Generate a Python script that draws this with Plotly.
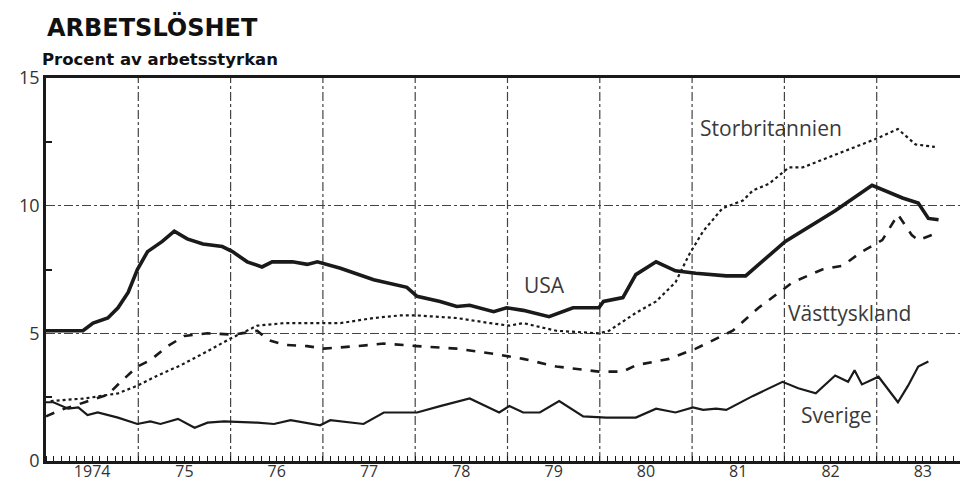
import plotly.graph_objects as go

# ---------------- data (decimal year, percent) ----------------
usa_x = [1974.00, 1974.24, 1974.40, 1974.51, 1974.67, 1974.78, 1974.89, 1974.99, 1975.10, 1975.26,
         1975.39, 1975.53, 1975.70, 1975.91, 1976.02, 1976.18, 1976.34, 1976.45, 1976.67, 1976.83,
         1976.94, 1977.19, 1977.55, 1977.91, 1978.02, 1978.27, 1978.45, 1978.59, 1978.85, 1978.99,
         1979.17, 1979.45, 1979.71, 1979.99, 1980.04, 1980.25, 1980.39, 1980.61, 1980.82, 1981.04,
         1981.37, 1981.58, 1982.01, 1982.55, 1982.95, 1983.28, 1983.45, 1983.56, 1983.67]
usa_y = [5.1, 5.1, 5.1, 5.4, 5.6, 6.0, 6.6, 7.5, 8.2, 8.6,
         9.0, 8.7, 8.5, 8.4, 8.2, 7.8, 7.6, 7.8, 7.8, 7.7,
         7.8, 7.55, 7.1, 6.8, 6.45, 6.25, 6.05, 6.1, 5.85, 6.0,
         5.9, 5.65, 6.0, 6.0, 6.25, 6.4, 7.3, 7.8, 7.45, 7.35,
         7.25, 7.25, 8.6, 9.8, 10.8, 10.3, 10.1, 9.5, 9.45]

gb_x = [1974.05, 1974.42, 1974.78, 1974.99, 1975.21, 1975.46, 1975.75, 1976.00, 1976.29, 1976.58,
        1976.83, 1977.19, 1977.55, 1977.83, 1978.02, 1978.45, 1978.81, 1979.02, 1979.17, 1979.53,
        1979.99, 1980.10, 1980.39, 1980.61, 1980.82, 1980.97, 1981.12, 1981.33, 1981.55, 1981.66,
        1981.83, 1982.05, 1982.20, 1982.55, 1982.98, 1983.23, 1983.42, 1983.63]
gb_y = [2.35, 2.45, 2.65, 2.95, 3.35, 3.75, 4.3, 4.8, 5.3, 5.4,
        5.4, 5.4, 5.6, 5.7, 5.7, 5.6, 5.4, 5.3, 5.4, 5.1,
        5.0, 5.1, 5.8, 6.25, 7.0, 8.1, 9.0, 9.9, 10.2, 10.6,
        10.85, 11.5, 11.5, 12.0, 12.6, 13.0, 12.4, 12.3]

de_x = [1974.00, 1974.16, 1974.42, 1974.67, 1974.81, 1974.99, 1975.13, 1975.32, 1975.50, 1975.75,
        1976.04, 1976.29, 1976.40, 1976.58, 1976.83, 1977.01, 1977.37, 1977.66, 1978.02, 1978.45,
        1978.85, 1979.17, 1979.53, 1979.99, 1980.25, 1980.39, 1980.75, 1981.04, 1981.44, 1981.72,
        1982.09, 1982.41, 1982.63, 1982.84, 1983.06, 1983.23, 1983.38, 1983.45, 1983.63]
de_y = [1.75, 2.0, 2.3, 2.6, 3.1, 3.7, 3.95, 4.5, 4.9, 5.0,
        4.95, 5.1, 4.75, 4.55, 4.5, 4.4, 4.5, 4.6, 4.5, 4.4,
        4.2, 4.0, 3.7, 3.5, 3.5, 3.75, 4.0, 4.4, 5.1, 6.0,
        7.0, 7.5, 7.65, 8.2, 8.65, 9.65, 8.85, 8.65, 8.9]

se_x = [1974.00, 1974.08, 1974.24, 1974.35, 1974.45, 1974.56, 1974.78, 1974.99, 1975.13, 1975.24,
        1975.43, 1975.61, 1975.75, 1975.93, 1976.29, 1976.47, 1976.65, 1976.83, 1976.97, 1977.08,
        1977.44, 1977.66, 1978.02, 1978.27, 1978.59, 1978.91, 1979.02, 1979.17, 1979.35, 1979.56,
        1979.82, 1980.07, 1980.39, 1980.61, 1980.82, 1981.01, 1981.12, 1981.26, 1981.37, 1981.66,
        1981.98, 1982.15, 1982.34, 1982.55, 1982.69, 1982.76, 1982.84, 1983.02, 1983.13, 1983.23,
        1983.34, 1983.45, 1983.56]
se_y = [2.3, 2.3, 2.05, 2.1, 1.8, 1.9, 1.7, 1.45, 1.55, 1.45,
        1.65, 1.3, 1.5, 1.55, 1.5, 1.45, 1.6, 1.5, 1.4, 1.6,
        1.45, 1.9, 1.9, 2.15, 2.45, 1.9, 2.15, 1.9, 1.9, 2.35,
        1.75, 1.7, 1.7, 2.05, 1.9, 2.1, 2.0, 2.05, 2.0, 2.55,
        3.1, 2.85, 2.65, 3.35, 3.1, 3.55, 3.0, 3.3, 2.75, 2.3,
        2.95, 3.7, 3.9]

year_labels = ["1974", "75", "76", "77", "78", "79", "80", "81", "82", "83"]
year_starts = [1974, 1975, 1976, 1977, 1978, 1979, 1980, 1981, 1982, 1983]
y_ticks = [0, 5, 10, 15]

series_labels = ["Storbritannien", "USA", "Västtyskland", "Sverige"]
label_x = [1981.86, 1979.40, 1982.70, 1982.56]
label_y = [13.05, 6.9, 5.8, 1.80]

# ---------------- figure ----------------
INK = "#1a1a1a"
fig = go.Figure()
fig.add_trace(go.Scatter(x=gb_x, y=gb_y, mode="lines", name="Storbritannien",
                         line=dict(color=INK, width=2.2, dash="dot")))
fig.add_trace(go.Scatter(x=de_x, y=de_y, mode="lines", name="Västtyskland",
                         line=dict(color=INK, width=2.6, dash="dash")))
fig.add_trace(go.Scatter(x=se_x, y=se_y, mode="lines", name="Sverige",
                         line=dict(color=INK, width=2.2)))
fig.add_trace(go.Scatter(x=usa_x, y=usa_y, mode="lines", name="USA",
                         line=dict(color=INK, width=3.6)))

# vertical year-boundary grid lines
for yr in year_starts[1:]:
    fig.add_shape(type="line", xref="x", yref="paper", x0=yr, x1=yr, y0=0, y1=1,
                  line=dict(color="#444", width=1.2, dash="dashdot"), layer="below")

for txt, lx, ly in zip(series_labels, label_x, label_y):
    fig.add_annotation(x=lx, y=ly, xref="x", yref="y", text=txt, showarrow=False,
                       font=dict(family="Open Sans", size=21, color="#3a3a3a"),
                       xanchor="center", yanchor="middle")

fig.add_annotation(x=-0.001, y=1.133, xref="paper", yref="paper", text="<b>ARBETSLÖSHET</b>",
                   showarrow=False, xanchor="left", yanchor="middle",
                   font=dict(family="DejaVu Sans", size=24, color="#111"))
fig.add_annotation(x=-0.006, y=1.047, xref="paper", yref="paper",
                   text="<b>Procent av arbetsstyrkan</b>",
                   showarrow=False, xanchor="left", yanchor="middle",
                   font=dict(family="DejaVu Sans", size=16.5, color="#111"))

fig.update_layout(
    width=968, height=483,
    margin=dict(l=38, r=4, t=70, b=30),
    paper_bgcolor="white", plot_bgcolor="white",
    showlegend=False,
    font=dict(family="Open Sans", color="#333"),
)
fig.update_xaxes(
    range=[1974, 1984],
    tickvals=[y + 0.5 for y in year_starts], ticktext=year_labels,
    ticks="", showgrid=False, zeroline=False,
    tickfont=dict(family="Open Sans", size=16, color="#333"),
    ticklabelstandoff=-6,
    showline=True, linecolor=INK, linewidth=2.5, mirror=True,
    minor=dict(dtick=1 / 12, tick0=1974, ticks="inside", ticklen=5, tickcolor=INK,
               tickwidth=1.2, showgrid=False),
)
fig.update_yaxes(
    range=[0, 15], tickvals=y_ticks,
    ticks="", showgrid=True, gridcolor="#444", gridwidth=1.2, griddash="dashdot",
    zeroline=False,
    tickfont=dict(family="Open Sans", size=18, color="#333"),
    showline=True, linecolor=INK, linewidth=2.5, mirror="ticks",
    minor=dict(tickvals=[2.5, 7.5, 12.5], ticks="inside", ticklen=6, tickcolor=INK,
               tickwidth=1.5, showgrid=False),
)

fig.write_html("out.html")
